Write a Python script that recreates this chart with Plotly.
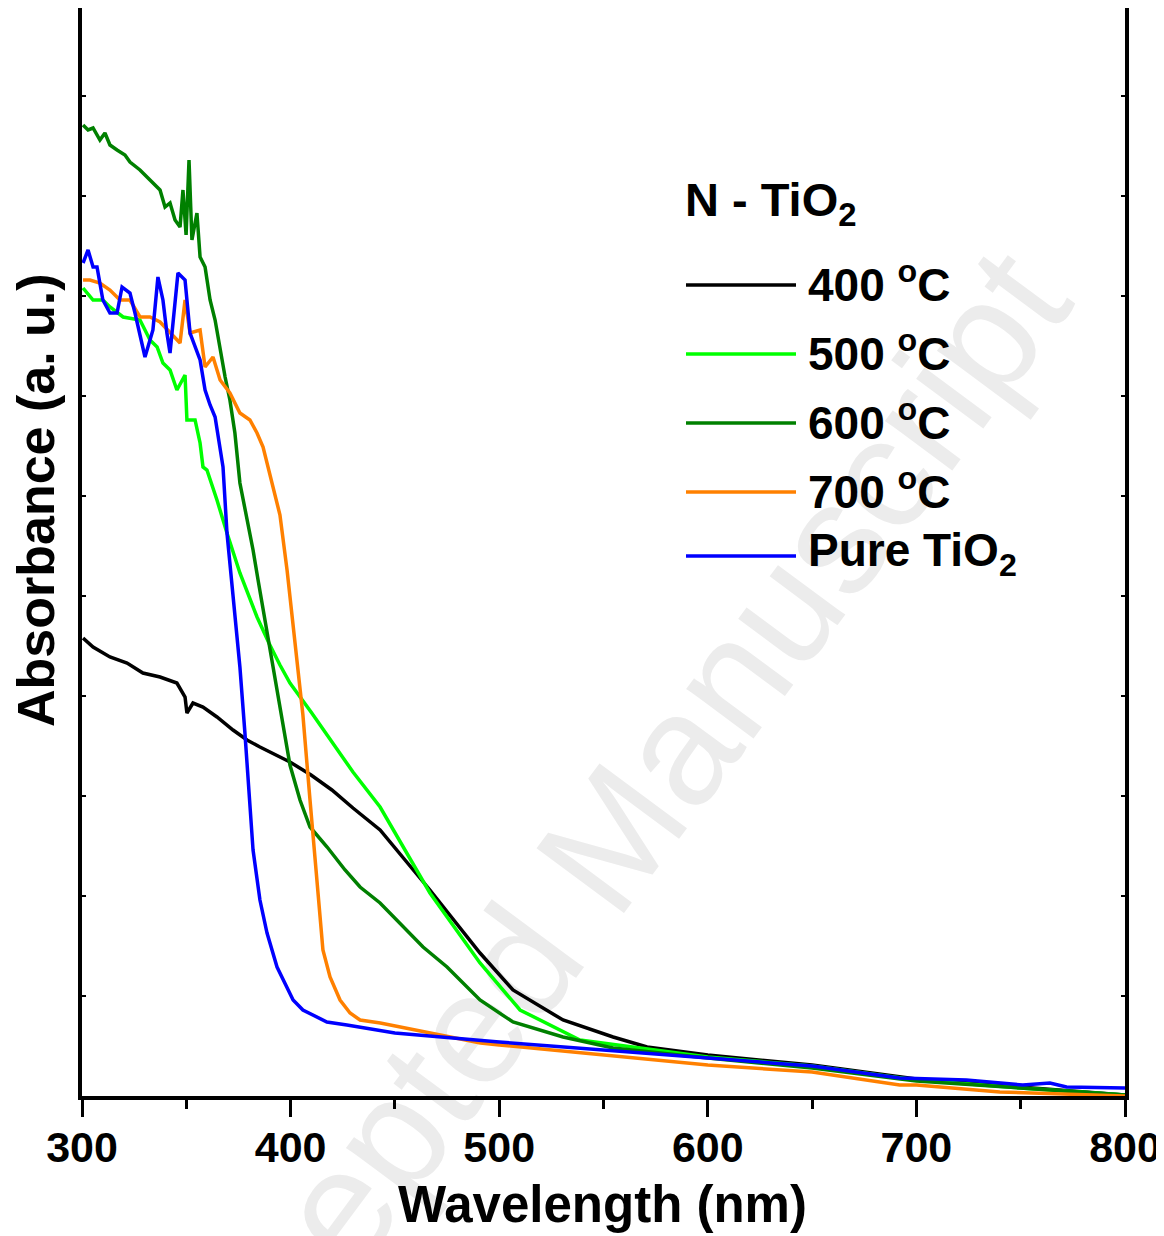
import plotly.graph_objects as go

# ---------------- data (absorbance, arbitrary units) ----------------
wl_400 = [300.5, 305.3, 313.4, 321.6, 329.2, 337.4, 345.5, 349.4, 350.3, 353.2, 358, 364.7, 372.4,
          379.1, 385.3, 399.7, 409.8, 419.8, 429.9, 442.9, 466.8, 490.8, 506.6, 530.6, 554.6,
          570.9, 600, 650, 700, 750, 800]
ab_400 = [0.458, 0.449, 0.439, 0.433, 0.423, 0.419, 0.413, 0.399, 0.383, 0.393, 0.389, 0.379, 0.366,
          0.356, 0.349, 0.334, 0.321, 0.306, 0.288, 0.266, 0.206, 0.143, 0.106, 0.076, 0.059,
          0.049, 0.041, 0.031, 0.017, 0.009, 0.001]

wl_500 = [300.5, 305.3, 310, 313.4, 319.7, 327.8, 332.6, 336, 338.8, 342.2, 345.5, 349.4, 350.3, 354.2,
          356.6, 358, 359.9, 364.7, 369.5, 375.7, 383.9, 389.6, 394.9, 399.7, 409.8, 419.8, 429.9,
          442.9, 466.8, 490.8, 510, 538.7, 560, 600, 650, 700, 750, 800]
ab_500 = [0.808, 0.796, 0.796, 0.789, 0.779, 0.776, 0.756, 0.749, 0.733, 0.726, 0.706, 0.721, 0.676, 0.676,
          0.653, 0.629, 0.626, 0.596, 0.563, 0.523, 0.479, 0.453, 0.431, 0.413, 0.384, 0.354, 0.324,
          0.289, 0.203, 0.133, 0.086, 0.056, 0.050, 0.039, 0.030, 0.016, 0.008, 0.001]

wl_600 = [300.5, 302.9, 305.3, 308.6, 311, 313.4, 316.8, 320.6, 323, 327.8, 332.6, 337.4, 339.8, 342.2,
          344.6, 347, 348.4, 349.9, 351.3, 352.7, 355.1, 356.6, 359, 361.4, 363.8, 366.2, 368.6,
          370.9, 373.3, 375.7, 379.1, 382, 384.4, 387.7, 391.1, 394.9, 399.7, 404.5, 409.3, 417.5,
          426.1, 433.3, 442.9, 463.5, 475, 490.8, 506.6, 530.6, 554.6, 600, 650, 700, 750, 800]
ab_600 = [0.971, 0.966, 0.968, 0.956, 0.963, 0.951, 0.946, 0.941, 0.934, 0.926, 0.916, 0.906, 0.889, 0.893,
          0.876, 0.869, 0.906, 0.861, 0.936, 0.856, 0.883, 0.839, 0.829, 0.796, 0.776, 0.746, 0.719,
          0.696, 0.663, 0.613, 0.579, 0.546, 0.516, 0.476, 0.436, 0.386, 0.331, 0.296, 0.269, 0.249,
          0.226, 0.209, 0.193, 0.149, 0.129, 0.096, 0.074, 0.059, 0.048, 0.038, 0.028, 0.015, 0.008, 0.001]

wl_700 = [300.5, 303.8, 308.6, 313.4, 318.2, 323, 327.8, 332.6, 337.4, 342.2, 347, 349.4, 351.8, 356.6,
          359, 362.8, 366.2, 370.9, 375.7, 380.5, 383.9, 386.8, 390.1, 394.9, 398.3, 402.1, 405.9,
          409.3, 410.7, 412.7, 414.1, 415.5, 418.9, 423.7, 428.5, 433.3, 443, 491, 500, 550, 600,
          650, 692, 700, 740, 800]
ab_700 = [0.816, 0.816, 0.813, 0.806, 0.796, 0.796, 0.779, 0.779, 0.774, 0.763, 0.753, 0.796, 0.763, 0.766,
          0.729, 0.739, 0.716, 0.703, 0.683, 0.676, 0.663, 0.649, 0.621, 0.581, 0.526, 0.456, 0.381,
          0.296, 0.263, 0.213, 0.179, 0.146, 0.119, 0.096, 0.083, 0.076, 0.073, 0.053, 0.051, 0.041, 0.031,
          0.024, 0.011, 0.011, 0.004, 0.0]

wl_pure = [300.5, 302.9, 305.3, 307.2, 310, 313.4, 316.8, 319.2, 323, 325.4, 330.2, 334, 336.4, 338.8,
           340.7, 342.2, 346, 349.4, 351.8, 356.6, 359, 361.4, 363.8, 366.2, 367.6, 369.5, 372.4,
           375.7, 378.1, 380.5, 382, 385.3, 388.7, 393.5, 401.2, 405.9, 417.4, 427, 433.3, 450, 500,
           550, 600, 650, 692, 724, 751, 764, 772, 797, 800]
ab_pure = [0.833, 0.846, 0.829, 0.829, 0.796, 0.783, 0.783, 0.809, 0.803, 0.783, 0.739, 0.766, 0.819, 0.796,
           0.763, 0.743, 0.823, 0.816, 0.763, 0.736, 0.706, 0.691, 0.679, 0.646, 0.629, 0.563, 0.496,
           0.429, 0.363, 0.296, 0.246, 0.196, 0.163, 0.129, 0.096, 0.086, 0.074, 0.071, 0.069, 0.063, 0.054,
           0.046, 0.038, 0.030, 0.018, 0.016, 0.011, 0.013, 0.009, 0.008, 0.008]

series_names = ["400 <sup>o</sup>C", "500 <sup>o</sup>C", "600 <sup>o</sup>C", "700 <sup>o</sup>C",
                "Pure TiO<sub>2</sub>"]
series_x = [wl_400, wl_500, wl_600, wl_700, wl_pure]
series_y = [ab_400, ab_500, ab_600, ab_700, ab_pure]
colors = ["#000000", "#00ff00", "#008000", "#ff8000", "#0000ff"]

x_ticks = [300, 400, 500, 600, 700, 800]
legend_title = "N - TiO<sub>2</sub>"

# ---------------- figure ----------------
fig = go.Figure()
for nm, xs, ys, c in zip(series_names, series_x, series_y, colors):
    fig.add_trace(go.Scatter(x=xs, y=ys, mode="lines", name=nm,
                             line=dict(color=c, width=3.5), showlegend=False))

FONT = "Arial, Liberation Sans, sans-serif"
OFF = 8  # page body margin
W, H = 1164 - OFF, 1236 - OFF
PL, PR, PT, PB = 82, 1125, 8, 1096   # plot area in window pixels
L, R, T, B = PL - OFF, W - (PR - OFF), PT - OFF, H - (PB - OFF)
pw, ph = PR - PL, PB - PT


def px(xp):
    return (xp - PL) / pw


def py(yp):
    return (PB - yp) / ph


# manual legend
rows = [285, 354, 423, 492, 556]
shapes = []
annotations = []
for nm, c, yr in zip(series_names, colors, rows):
    shapes.append(dict(type="line", xref="paper", yref="paper", x0=px(686), x1=px(796),
                       y0=py(yr), y1=py(yr), line=dict(color=c, width=3.5)))
    annotations.append(dict(text="<b>" + nm + "</b>", xref="paper", yref="paper", x=px(806), y=py(yr - 3),
                            xanchor="left", yanchor="middle", showarrow=False,
                            font=dict(family=FONT, size=46, color="black")))
annotations.append(dict(text="<b>" + legend_title + "</b>", xref="paper", yref="paper", x=px(683), y=py(203),
                        xanchor="left", yanchor="middle", showarrow=False,
                        font=dict(family=FONT, size=47, color="black")))
# axis titles
annotations.append(dict(text="<b>Wavelength (nm)</b>", xref="paper", yref="paper", x=px(602), y=py(1204),
                        xanchor="center", yanchor="middle", showarrow=False,
                        font=dict(family=FONT, size=51, color="black")))
annotations.append(dict(text="<b>Absorbance (a. u.)</b>", xref="paper", yref="paper", x=px(36), y=py(500),
                        xanchor="center", yanchor="middle", showarrow=False, textangle=-90,
                        font=dict(family=FONT, size=52, color="black")))

# watermark below the curves
shapes.append(dict(type="line", xref="paper", yref="paper", layer="below",
                   x0=px(356), y0=py(1310), x1=px(952), y1=py(506),
                   line=dict(color="rgba(0,0,0,0)", width=0),
                   label=dict(text="Accepted Manuscript", textposition="middle",
                              font=dict(family=FONT, size=158, color="#ececec"))))

fig.update_layout(
    width=W, height=H,
    margin=dict(l=L, r=R, t=T, b=B, autoexpand=False),
    paper_bgcolor="white", plot_bgcolor="white",
    shapes=shapes, annotations=annotations,
    showlegend=False,
)
fig.update_xaxes(range=[300, 800], tickvals=x_ticks, ticktext=["<b>%d</b>" % v for v in x_ticks],
                 ticks="outside", ticklen=17, tickwidth=3, tickcolor="black",
                 minor=dict(dtick=50, ticks="outside", ticklen=9, tickwidth=3, tickcolor="black"),
                 showline=True, linewidth=3.5, linecolor="black", mirror=True,
                 showgrid=False, zeroline=False, ticklabelstandoff=-6,
                 tickfont=dict(family=FONT, size=43, color="black"))
fig.update_yaxes(range=[0, 1.088], dtick=0.1, showticklabels=False,
                 ticks="inside", ticklen=4, tickwidth=2, tickcolor="black",
                 showline=True, linewidth=3.5, linecolor="black", mirror="ticks",
                 showgrid=False, zeroline=False)

fig.write_html("out.html")
